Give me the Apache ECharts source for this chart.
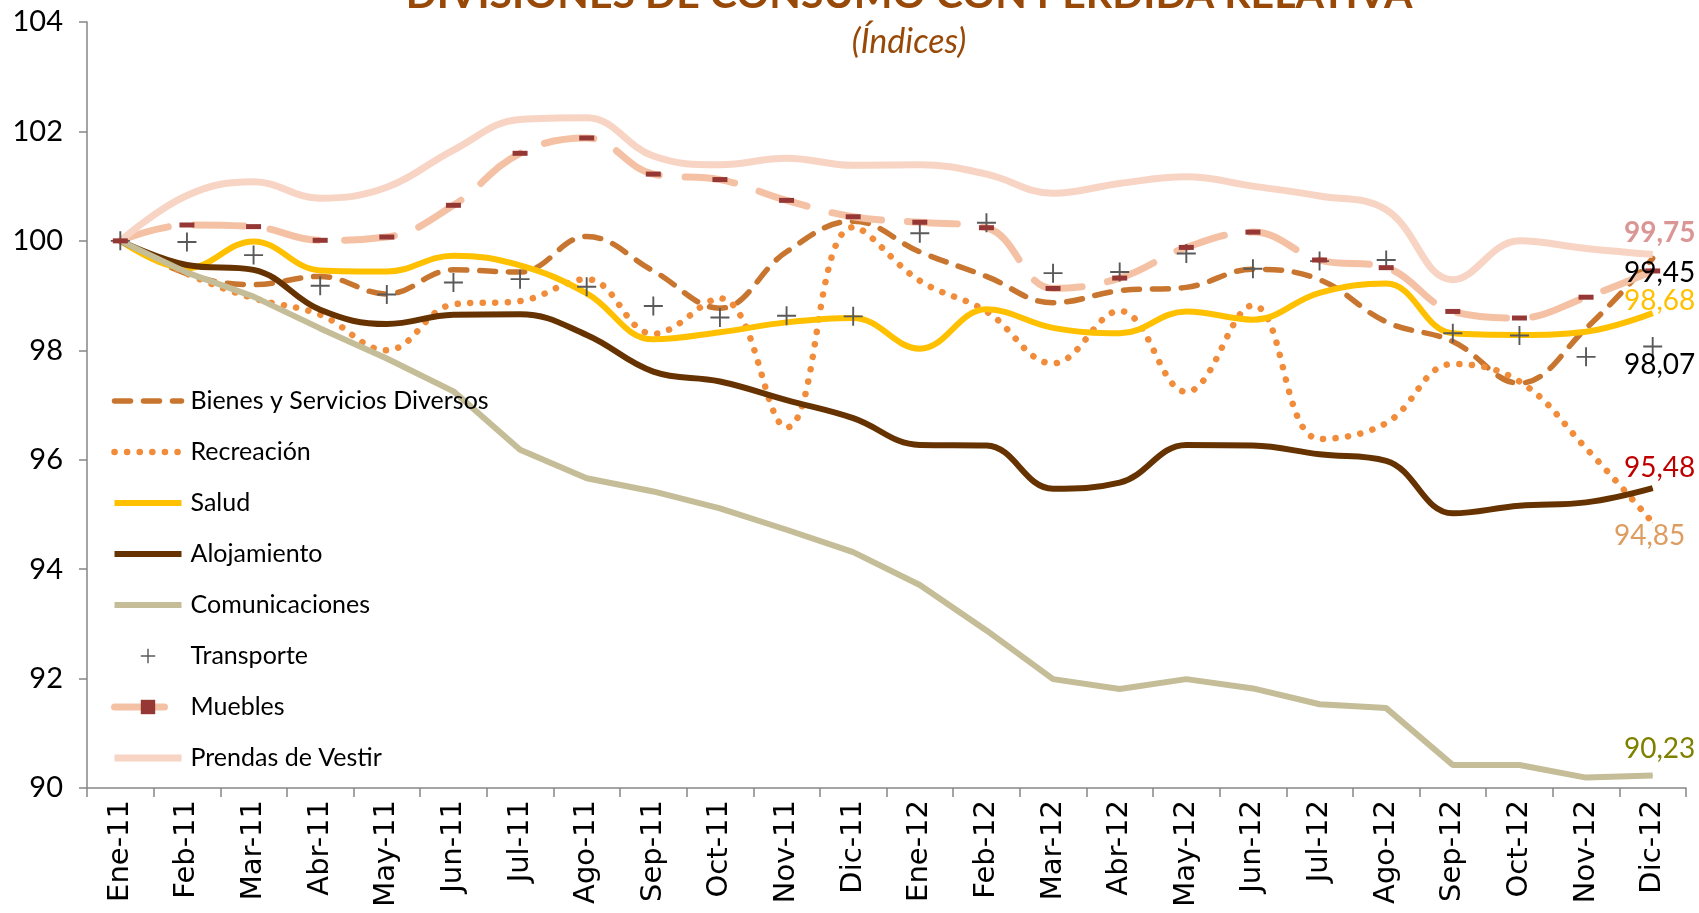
<!DOCTYPE html>
<html>
<head>
<meta charset="utf-8">
<script src="https://cdn.jsdelivr.net/npm/echarts@6/dist/echarts.min.js"></script>
<style>
  html, body { margin: 0; background: #fff; }
  #chart { width: 1699px; height: 913px; }
</style>
</head>
<body>
<div id="chart"></div>
<script>
// categories
const months = ['Ene-11', 'Feb-11', 'Mar-11', 'Abr-11', 'May-11', 'Jun-11', 'Jul-11', 'Ago-11',
  'Sep-11', 'Oct-11', 'Nov-11', 'Dic-11', 'Ene-12', 'Feb-12', 'Mar-12', 'Abr-12', 'May-12',
  'Jun-12', 'Jul-12', 'Ago-12', 'Sep-12', 'Oct-12', 'Nov-12', 'Dic-12'];

// index values
const bienes = [100, 99.4, 99.2, 99.35, 99.03, 99.47, 99.43, 100.08, 99.45, 98.77, 99.8, 100.36,
  99.8, 99.35, 98.87, 99.09, 99.15, 99.48, 99.29, 98.52, 98.16, 97.4, 98.4, 99.68];
const recreacion = [100, 99.4, 98.95, 98.65, 98.0, 98.84, 98.9, 99.3, 98.3, 98.95, 96.59, 100.25,
  99.27, 98.71, 97.76, 98.72, 97.24, 98.82, 96.38, 96.67, 97.75, 97.43, 96.21, 94.85];
const salud = [100, 99.5, 99.99, 99.46, 99.44, 99.73, 99.55, 99.04, 98.2, 98.33, 98.51, 98.59,
  98.03, 98.75, 98.41, 98.31, 98.71, 98.56, 99.05, 99.22, 98.31, 98.28, 98.34, 98.68];
const alojamiento = [100, 99.56, 99.47, 98.74, 98.48, 98.65, 98.66, 98.28, 97.61, 97.43, 97.09, 96.76,
  96.27, 96.26, 95.47, 95.58, 96.27, 96.26, 96.1, 95.98, 95.02, 95.16, 95.22, 95.48];
const comunicaciones = [100, 99.42, 98.98, 98.4, 97.85, 97.25, 96.18, 95.66, 95.42, 95.11, 94.72, 94.31,
  93.71, 92.88, 91.99, 91.81, 91.99, 91.82, 91.53, 91.46, 90.42, 90.42, 90.19, 90.23];
const transporte = [100, 99.98, 99.74, 99.18, 99.02, 99.24, 99.3, 99.16, 98.81, 98.6, 98.63, 98.62,
  100.14, 100.33, 99.41, 99.43, 99.77, 99.49, 99.63, 99.65, 98.31, 98.27, 97.88, 98.07];
const muebles = [100, 100.29, 100.26, 100.01, 100.07, 100.65, 101.6, 101.88, 101.22, 101.12, 100.74, 100.44,
  100.34, 100.24, 99.13, 99.32, 99.88, 100.16, 99.65, 99.51, 98.71, 98.59, 98.97, 99.45];
const prendas = [100, 100.83, 101.08, 100.78, 100.98, 101.66, 102.22, 102.25, 101.55, 101.39, 101.51, 101.38,
  101.39, 101.22, 100.87, 101.05, 101.17, 101.0, 100.82, 100.57, 99.29, 100.0, 99.86, 99.75];

const FONT = 'Lato';
const lastIdx = months.length - 1;

const fmt = (p) => p.value.toFixed(2).replace('.', ',');

// put a value label on the last point of a series
const withEndLabel = (values, lbl, keepSymbol) => {
  return values.map((v, i) => {
    if (i !== lastIdx || !lbl) return v;
    const item = {
      value: v,
      label: {
        show: true,
        position: 'inside',
        offset: lbl.offset,
        formatter: fmt,
        color: lbl.color,
        fontSize: 28,
        fontFamily: FONT,
        fontWeight: lbl.bold ? 'bold' : 'normal',
      },
    };
    if (!keepSymbol) {
      item.symbol = 'circle';
      item.symbolSize = 1;
    }
    return item;
  });
};

const plusPath = 'path://M9,0h2v9h9v2h-9v9h-2v-9h-9v-2h9z';

const seriesNames = ['Bienes y Servicios Diversos', 'Recreación', 'Salud', 'Alojamiento',
  'Comunicaciones', 'Transporte', 'Muebles', 'Prendas de Vestir'];
const withMarker = ['Transporte', 'Muebles'];

const option = {
  animation: false,
  backgroundColor: '#fff',
  graphic: [
    {
      type: 'text',
      x: 909,
      y: -5,
      style: {
        text: 'DIVISIONES DE CONSUMO CON PÉRDIDA RELATIVA',
        font: 'bold 41px Lato',
        fill: '#984807',
        textAlign: 'center',
        textVerticalAlign: 'middle',
      },
    },
    {
      type: 'text',
      x: 909,
      y: 42,
      style: {
        text: '(Índices)',
        font: 'italic 34px Lato',
        fill: '#984807',
        textAlign: 'center',
        textVerticalAlign: 'middle',
      },
    },
  ],
  grid: {
    left: 87,
    right: 13,
    top: 22,
    bottom: 125,
    containLabel: false,
    outerBoundsMode: 'none',
  },
  legend: {
    orient: 'vertical',
    left: 111,
    top: 388,
    padding: 0,
    itemWidth: 67,
    itemHeight: 18,
    itemGap: 25,
    lineStyle: { width: 'inherit' },
    textStyle: {
      fontFamily: FONT,
      fontSize: 25,
      lineHeight: 26,
      color: '#000',
      padding: [0, 0, 0, 4],
    },
    data: seriesNames.map((name) =>
      withMarker.includes(name) ? name : { name, itemStyle: { opacity: 0 } }
    ),
  },
  xAxis: {
    type: 'category',
    data: months,
    boundaryGap: true,
    axisLine: { lineStyle: { color: '#868686', width: 1.5 } },
    axisTick: { show: true, interval: 0, length: 9, lineStyle: { color: '#868686', width: 1.5 } },
    axisLabel: {
      interval: 0,
      rotate: 90,
      margin: 12,
      color: '#000',
      fontSize: 29,
      fontFamily: 'DejaVu Sans',
    },
    splitLine: { show: false },
  },
  yAxis: {
    type: 'value',
    min: 90,
    max: 104,
    interval: 2,
    axisLine: { show: true, lineStyle: { color: '#868686', width: 1.5 } },
    axisTick: { show: true, length: 8, lineStyle: { color: '#868686', width: 1.5 } },
    axisLabel: { color: '#000', fontSize: 29, fontFamily: FONT, margin: 24 },
    splitLine: { show: false },
  },
  series: [
    {
      name: 'Bienes y Servicios Diversos',
      type: 'line',
      smooth: 0.4,
      symbol: 'none',
      data: withEndLabel(bienes, null),
      itemStyle: { color: '#C8762F' },
      lineStyle: { color: '#C8762F', width: 5.5, type: [16, 13], cap: 'round' },
    },
    {
      name: 'Recreación',
      type: 'line',
      smooth: 0.4,
      symbol: 'none',
      data: withEndLabel(recreacion, { color: '#DD9C60', offset: [-3, 13] }),
      itemStyle: { color: '#F08C3A' },
      lineStyle: { color: '#F08C3A', width: 6.5, type: [0.1, 12.5], cap: 'round' },
    },
    {
      name: 'Salud',
      type: 'line',
      smooth: 0.4,
      symbol: 'none',
      data: withEndLabel(salud, { color: '#FFC000', offset: [7, -12] }),
      itemStyle: { color: '#FFC000' },
      lineStyle: { color: '#FFC000', width: 6 },
    },
    {
      name: 'Alojamiento',
      type: 'line',
      smooth: 0.4,
      symbol: 'none',
      data: withEndLabel(alojamiento, { color: '#C00000', offset: [7, -20] }),
      itemStyle: { color: '#663300' },
      lineStyle: { color: '#663300', width: 6 },
    },
    {
      name: 'Comunicaciones',
      type: 'line',
      smooth: false,
      symbol: 'none',
      data: withEndLabel(comunicaciones, { color: '#808000', offset: [7, -26] }),
      itemStyle: { color: '#C4BD97' },
      lineStyle: { color: '#C4BD97', width: 6 },
    },
    {
      name: 'Transporte',
      type: 'line',
      symbol: plusPath,
      symbolSize: 19,
      data: withEndLabel(transporte, { color: '#000', offset: [7, 19] }, true),
      itemStyle: { color: '#595959' },
      lineStyle: { width: 0, color: 'rgba(0,0,0,0)' },
    },
    {
      name: 'Muebles',
      type: 'line',
      smooth: 0.4,
      symbol: 'rect',
      symbolSize: [15, 5],
      data: withEndLabel(muebles, { color: '#000', offset: [7, 2] }, true),
      itemStyle: { color: '#953735' },
      lineStyle: { color: '#F5C1A5', width: 7, type: [50, 26], cap: 'round' },
    },
    {
      name: 'Prendas de Vestir',
      type: 'line',
      smooth: 0.4,
      symbol: 'none',
      data: withEndLabel(prendas, { color: '#D99694', offset: [7, -22], bold: true }),
      itemStyle: { color: '#F8D4C4' },
      lineStyle: { color: '#F8D4C4', width: 7 },
    },
  ],
};

const chart = echarts.init(document.getElementById('chart'));
chart.setOption(option);
</script>
</body>
</html>
